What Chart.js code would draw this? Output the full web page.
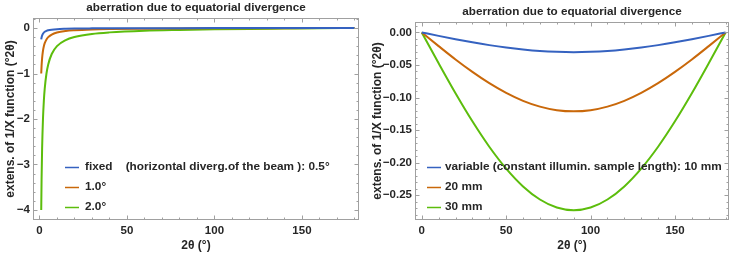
<!DOCTYPE html>
<html>
<head>
    <title>aberration due to equatorial divergence</title>
    <style>
        body {
            margin: 0;
            background: #ffffff;
            font-family: 'Liberation Sans', Arial, sans-serif;
        }
        .panel {
            position: absolute;
            top: 0;
        }
    </style>
    <script src="https://cdn.jsdelivr.net/npm/chart.js"></script>
</head>
<body>
    <div class="panel" style="left:0"><canvas id="fixedChart" width="367" height="255"></canvas></div>
    <div class="panel" style="left:367px"><canvas id="variableChart" width="368" height="255"></canvas></div>
    <script>
        // left panel: fixed slit, horizontal divergence of the beam
        const fixedTwoTheta = [1, 1.2, 1.5, 2, 2.5, 3, 4, 5, 7, 10, 15, 20, 30, 40, 60, 80, 100, 120, 140, 160, 180];
        const fixed05 = [-0.25, -0.208, -0.167, -0.125, -0.1, -0.083, -0.0625, -0.05, -0.036, -0.025, -0.017, -0.012, -0.008, -0.006, -0.004, -0.003, -0.002, -0.001, -0.001, 0, 0];
        const fixed10 = [-1, -0.833, -0.667, -0.5, -0.4, -0.333, -0.25, -0.2, -0.143, -0.1, -0.066, -0.05, -0.033, -0.024, -0.015, -0.01, -0.007, -0.005, -0.003, -0.0015, 0];
        const fixed20 = [-4, -3.333, -2.667, -2, -1.6, -1.333, -1, -0.8, -0.571, -0.399, -0.265, -0.198, -0.13, -0.096, -0.06, -0.042, -0.029, -0.02, -0.013, -0.006, 0];
        const fixedLabels = ['fixed    (horizontal diverg.of the beam ): 0.5°', '1.0°', '2.0°'];
        const fixedXTicks = [0, 50, 100, 150];
        const fixedYTicks = [0, -1, -2, -3, -4];

        // right panel: variable slit, constant illuminated sample length
        const varTwoTheta = [0, 10, 20, 30, 40, 50, 60, 70, 80, 90, 100, 110, 120, 130, 140, 150, 160, 170, 180];
        const var10 = [0, -0.0053, -0.0104, -0.0152, -0.0195, -0.0232, -0.0262, -0.0285, -0.0298, -0.0303, -0.0298, -0.0285, -0.0262, -0.0232, -0.0195, -0.0152, -0.0104, -0.0053, 0];
        const var20 = [0, -0.021, -0.0415, -0.0606, -0.0779, -0.0928, -0.105, -0.1139, -0.1194, -0.1212, -0.1194, -0.1139, -0.105, -0.0928, -0.0779, -0.0606, -0.0415, -0.021, 0];
        const var30 = [0, -0.0474, -0.0934, -0.1365, -0.1755, -0.2091, -0.2364, -0.2565, -0.2689, -0.273, -0.2689, -0.2565, -0.2364, -0.2091, -0.1755, -0.1365, -0.0934, -0.0474, 0];
        const varLabels = ['variable (constant illumin. sample length): 10 mm', '20 mm', '30 mm'];
        const varXTicks = [0, 50, 100, 150];
        const varYTicks = [0, -0.05, -0.1, -0.15, -0.2, -0.25];

        const chartTitle = 'aberration due to equatorial divergence';
        const colors = ['#3562c0', '#c9680a', '#5cbd0c'];
        const FONT = "'Liberation Sans', Arial, sans-serif";
        const TEXT = '#262626';

        function minus(v, digits) {
            const s = Math.abs(v).toFixed(digits);
            return v < 0 ? '\u2212' + s : s;
        }

        // frame with inward ticks on all four sides, like the original plot
        const framePlugin = {
            id: 'frame',
            afterDatasetsDraw(chart, args, opts) {
                const { ctx, chartArea: a, scales } = chart;
                ctx.save();
                ctx.strokeStyle = '#a0a0a0';
                ctx.lineWidth = 1;
                ctx.strokeRect(a.left + 0.5, a.top + 0.5, a.right - a.left - 1, a.bottom - a.top - 1);
                const drawX = (step, len) => {
                    const start = Math.ceil(scales.x.min / step) * step;
                    for (let v = start; v <= scales.x.max + 1e-9; v += step) {
                        const px = Math.round(scales.x.getPixelForValue(v)) + 0.5;
                        ctx.beginPath();
                        ctx.moveTo(px, a.bottom); ctx.lineTo(px, a.bottom - len);
                        ctx.moveTo(px, a.top); ctx.lineTo(px, a.top + len);
                        ctx.stroke();
                    }
                };
                const drawY = (step, len) => {
                    const start = Math.ceil(scales.y.min / step - 1e-9) * step;
                    for (let v = start; v <= scales.y.max + 1e-9; v += step) {
                        const py = Math.round(scales.y.getPixelForValue(v)) + 0.5;
                        ctx.beginPath();
                        ctx.moveTo(a.left, py); ctx.lineTo(a.left + len, py);
                        ctx.moveTo(a.right, py); ctx.lineTo(a.right - len, py);
                        ctx.stroke();
                    }
                };
                drawX(opts.xMinor, 2.5);
                drawX(opts.xMajor, 4.5);
                drawY(opts.yMinor, 2.5);
                drawY(opts.yMajor, 4.5);
                ctx.restore();
            }
        };

        // title centred over the plot frame (chart.js centres it over the canvas)
        const frameTitle = {
            id: 'frameTitle',
            afterDraw(chart, args, opts) {
                const { ctx, chartArea: a } = chart;
                ctx.save();
                ctx.font = 'bold 11.7px ' + FONT;
                ctx.fillStyle = TEXT;
                ctx.textAlign = 'center';
                ctx.textBaseline = 'middle';
                ctx.fillText(opts.text, (a.left + a.right) / 2, opts.y);
                ctx.restore();
            }
        };

        // legend drawn inside the plot, lower left
        const insideLegend = {
            id: 'insideLegend',
            afterDraw(chart, args, opts) {
                const { ctx, chartArea: a } = chart;
                ctx.save();
                ctx.font = 'bold 11.8px ' + FONT;
                ctx.textBaseline = 'middle';
                chart.data.datasets.forEach((ds, i) => {
                    const y = opts.y + i * opts.gap;
                    const x = a.left + opts.x;
                    ctx.strokeStyle = ds.borderColor;
                    ctx.lineWidth = 1.5;
                    ctx.beginPath();
                    ctx.moveTo(x, y + 0.5);
                    ctx.lineTo(x + 14, y + 0.5);
                    ctx.stroke();
                    ctx.fillStyle = TEXT;
                    ctx.fillText(ds.label, x + opts.textGap, y);
                });
                ctx.restore();
            }
        };

        function buildChart(id, xs, series, labels, cfg) {
            const datasets = series.map((ys, i) => ({
                label: labels[i],
                data: xs.map((x, j) => ({ x: x, y: ys[j] })),
                borderColor: colors[i],
                borderWidth: 2,
                pointRadius: 0,
                fill: false,
                cubicInterpolationMode: 'monotone'
            }));
            return new Chart(document.getElementById(id), {
                type: 'line',
                data: { datasets: datasets },
                options: {
                    responsive: false,
                    animation: false,
                    layout: { padding: { left: 0, right: cfg.padRight, top: cfg.padTop, bottom: 0 } },
                    scales: {
                        x: {
                            type: 'linear',
                            min: cfg.xMin,
                            max: cfg.xMax,
                            grid: { display: false, drawTicks: false },
                            border: { display: false },
                            afterBuildTicks: s => { s.ticks = cfg.xTicks.map(v => ({ value: v })); },
                            afterFit: s => { s.height = 35; },
                            ticks: {
                                padding: 4,
                                color: TEXT,
                                font: { family: FONT, size: 11.5, weight: 'bold' },
                                maxRotation: 0,
                                callback: v => String(v)
                            },
                            title: {
                                display: true,
                                text: '2θ (°)',
                                color: TEXT,
                                font: { family: FONT, size: 12, weight: 'bold' },
                                padding: { top: 0, bottom: 2 }
                            }
                        },
                        y: {
                            type: 'linear',
                            min: cfg.yMin,
                            max: cfg.yMax,
                            grid: { display: false, drawTicks: false },
                            border: { display: false },
                            afterBuildTicks: s => { s.ticks = cfg.yTicks.map(v => ({ value: v })); },
                            afterFit: s => { s.width = cfg.yWidth; },
                            ticks: {
                                padding: 3,
                                color: TEXT,
                                font: { family: FONT, size: 11.5, weight: 'bold' },
                                callback: v => minus(v, cfg.digits)
                            },
                            title: {
                                display: true,
                                text: 'extens. of 1/X function (°2θ)',
                                color: TEXT,
                                font: { family: FONT, size: 12, weight: 'bold' },
                                padding: { top: 3, bottom: 0 }
                            }
                        }
                    },
                    plugins: {
                        legend: { display: false },
                        tooltip: { enabled: false },
                        title: { display: false },
                        frame: cfg.frame,
                        frameTitle: { text: chartTitle, y: cfg.titleY },
                        insideLegend: cfg.legend
                    }
                },
                plugins: [framePlugin, frameTitle, insideLegend]
            });
        }

        buildChart('fixedChart', fixedTwoTheta, [fixed05, fixed10, fixed20], fixedLabels, {
            padRight: 8, padTop: 18, yWidth: 33, titleY: 8,
            xMin: -3.7, xMax: 182.6, yMin: -4.22, yMax: 0.22,
            xTicks: fixedXTicks, yTicks: fixedYTicks, digits: 0,
            frame: { xMajor: 50, xMinor: 10, yMajor: 1, yMinor: 0.2 },
            legend: { x: 32, y: 167, gap: 20, textGap: 20 }
        });

        buildChart('variableChart', varTwoTheta, [var10, var20, var30], varLabels, {
            padRight: 6, padTop: 22, yWidth: 48, titleY: 12,
            xMin: -4, xMax: 182, yMin: -0.288, yMax: 0.016,
            xTicks: varXTicks, yTicks: varYTicks, digits: 2,
            frame: { xMajor: 50, xMinor: 10, yMajor: 0.05, yMinor: 0.01 },
            legend: { x: 12, y: 167, gap: 20, textGap: 18 }
        });
    </script>
</body>
</html>
